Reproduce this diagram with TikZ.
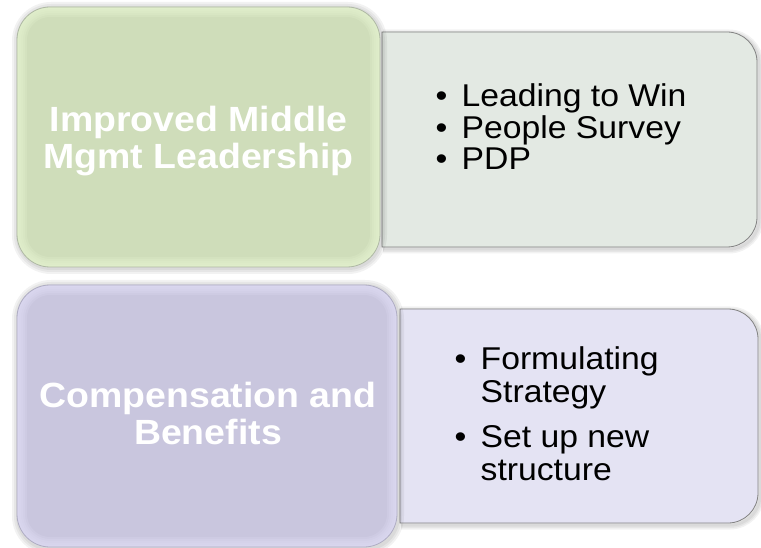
\documentclass[tikz,border=0pt]{standalone}
\usepackage{fontspec}
\newfontfamily\boxfont[FakeStretch=1.07]{Liberation Sans}

\definecolor{greenfill}{RGB}{207,221,186}
\definecolor{greenrim}{RGB}{232,246,212}
\definecolor{greenline}{RGB}{175,185,165}
\definecolor{sagefill}{RGB}{227,233,227}
\definecolor{purplefill}{RGB}{201,198,222}
\definecolor{purplerim}{RGB}{226,224,248}
\definecolor{purpleline}{RGB}{175,173,195}
\definecolor{lilacfill}{RGB}{228,227,243}
\definecolor{boxline}{RGB}{130,130,130}

\begin{document}
\begin{tikzpicture}[x=1pt,y=-1pt,
  title/.style={anchor=base,inner sep=0pt,text=white,
    font=\boxfont\bfseries\fontsize{35}{37}\selectfont},
  items/.style={anchor=base west,inner sep=0pt,text=black,
    font=\boxfont\fontsize{31.5}{30}\selectfont},
  shadow/.style={black,opacity=0.05}]

\useasboundingbox (0,0) rectangle (761,548);

% text boxes on the right, under the headers:
\foreach \w in {9pt,6pt,3pt}
  \draw[shadow,line width=\w] (383,34) -- (560,34) [rounded corners=30pt] -- (759,34) -- (759,249) -- (560,249) [sharp corners] -- (383,249);
\path[fill=sagefill,draw=boxline,line width=0.8pt] (382,32) -- (560,32) [rounded corners=30pt] -- (757,32) -- (757,247) -- (560,247) [sharp corners] -- (382,247) -- cycle;

\foreach \w in {9pt,6pt,3pt}
  \draw[shadow,line width=\w] (401,311) -- (580,311) [rounded corners=30pt] -- (760,311) -- (760,525) -- (580,525) [sharp corners] -- (401,525);
\path[fill=lilacfill,draw=boxline,line width=0.8pt] (400,309) -- (580,309) [rounded corners=30pt] -- (758,309) -- (758,523) -- (580,523) [sharp corners] -- (400,523) -- cycle;

% header boxes on the left:
\foreach \w in {12pt,8pt,4pt}
  \draw[shadow,line width=\w,rounded corners=33pt] (18,8) rectangle (381,268);
\fill[greenfill,rounded corners=33pt] (17,7) rectangle (380,267);
\begin{scope}
  \clip[rounded corners=33pt] (17,7) rectangle (380,267);
  \foreach \w in {20pt,16pt,12pt,8pt,4pt}
    \draw[greenrim,opacity=0.2,line width=\w,rounded corners=33pt] (17,7) rectangle (380,267);
\end{scope}
\draw[greenline,line width=0.8pt,rounded corners=33pt] (17,7) rectangle (380,267);

\foreach \w in {12pt,8pt,4pt}
  \draw[shadow,line width=\w,rounded corners=33pt] (18,286) rectangle (398,549);
\fill[purplefill,rounded corners=33pt] (17,285) rectangle (397,547);
\begin{scope}
  \clip[rounded corners=33pt] (17,285) rectangle (397,547);
  \foreach \w in {20pt,16pt,12pt,8pt,4pt}
    \draw[purplerim,opacity=0.2,line width=\w,rounded corners=33pt] (17,285) rectangle (397,547);
\end{scope}
\draw[purpleline,line width=0.8pt,rounded corners=33pt] (17,285) rectangle (397,547);

% headers
\node[title] (lead) at (198.5,132) {\begin{tabular}[t]{@{}c@{}}Improved Middle\\Mgmt Leadership\end{tabular}};
\node[title] (comp) at (208,407) {\begin{tabular}[t]{@{}c@{}}Compensation and\\Benefits\end{tabular}};

% bullet lists
\node[items] (leaditems) at (435.5,107) {\begin{tabular}[t]{@{}l@{}}
  \makebox[26pt][l]{\textbullet}Leading to Win\\
  \makebox[26pt][l]{\textbullet}People Survey\\
  \makebox[26pt][l]{\textbullet}PDP\end{tabular}};
\node[items,font=\boxfont\fontsize{31.5}{33}\selectfont] (compitems) at (454.5,370) {\begin{tabular}[t]{@{}l@{}}
  \makebox[26pt][l]{\textbullet}Formulating\\
  \hspace*{26pt}Strategy\\[12pt]
  \makebox[26pt][l]{\textbullet}Set up new\\
  \hspace*{26pt}structure\end{tabular}};

\end{tikzpicture}
\end{document}
